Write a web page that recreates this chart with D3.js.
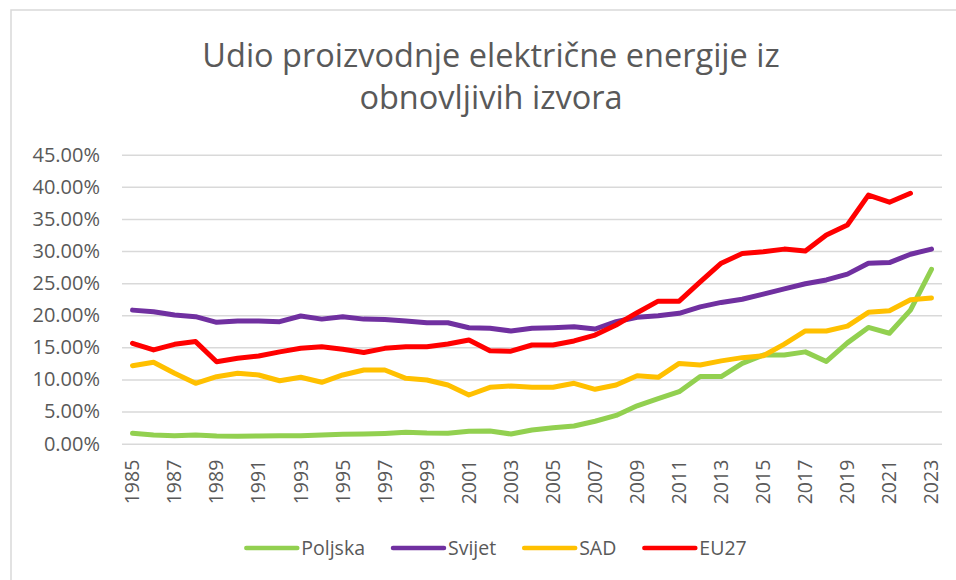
<!DOCTYPE html>
<html>
<head>
<meta charset="utf-8">
<script src="https://cdn.jsdelivr.net/npm/d3@7"></script>
<style>
  body { margin: 0; background: #fff; }
  svg { display: block; font-family: "Open Sans", sans-serif; }
</style>
</head>
<body>
<svg id="chart" width="956" height="580"></svg>
<script>
// ######## chart data (percent shares)
var years = [1985, 1986, 1987, 1988, 1989, 1990, 1991, 1992, 1993, 1994,
             1995, 1996, 1997, 1998, 1999, 2000, 2001, 2002, 2003, 2004,
             2005, 2006, 2007, 2008, 2009, 2010, 2011, 2012, 2013, 2014,
             2015, 2016, 2017, 2018, 2019, 2020, 2021, 2022, 2023];

var poljska = [1.62, 1.35, 1.25, 1.35, 1.2, 1.15, 1.2, 1.25, 1.25, 1.35,
               1.46, 1.5, 1.6, 1.77, 1.65, 1.62, 1.95, 1.98, 1.51, 2.13,
               2.5, 2.76, 3.5, 4.4, 5.9, 7.0, 8.1, 10.45, 10.45, 12.5,
               13.8, 13.8, 14.3, 12.8, 15.7, 18.1, 17.2, 20.8, 27.15];

var svijet = [20.8, 20.55, 20.04, 19.78, 18.9, 19.1, 19.1, 19.0, 19.88, 19.4,
              19.78, 19.4, 19.35, 19.1, 18.84, 18.84, 18.06, 17.97, 17.55, 17.97,
              18.06, 18.2, 17.86, 19.0, 19.68, 19.93, 20.3, 21.3, 22.0, 22.5,
              23.3, 24.1, 24.9, 25.5, 26.4, 28.1, 28.2, 29.5, 30.3];

var sad = [12.15, 12.67, 10.96, 9.4, 10.43, 10.96, 10.7, 9.8, 10.34, 9.56,
           10.7, 11.47, 11.47, 10.18, 9.92, 9.14, 7.58, 8.78, 8.98, 8.78,
           8.78, 9.4, 8.47, 9.14, 10.59, 10.34, 12.5, 12.25, 12.9, 13.4,
           13.7, 15.5, 17.55, 17.55, 18.3, 20.45, 20.7, 22.4, 22.7];

var eu27 = [15.63, 14.6, 15.47, 15.9, 12.77, 13.3, 13.65, 14.3, 14.85, 15.1,
            14.7, 14.2, 14.85, 15.1, 15.1, 15.52, 16.15, 14.48, 14.4, 15.37,
            15.37, 16.0, 16.92, 18.48, 20.4, 22.2, 22.2, 25.2, 28.1, 29.6,
            29.9, 30.3, 30.0, 32.5, 34.05, 38.7, 37.6, 39.0, null];

var yTicks = [0, 5, 10, 15, 20, 25, 30, 35, 40, 45];
var titleLines = ["Udio proizvodnje električne energije iz", "obnovljivih izvora"];

var series = [
  { name: "Poljska", values: poljska, color: "#92d050" },
  { name: "Svijet",  values: svijet,  color: "#7030a0" },
  { name: "SAD",     values: sad,     color: "#ffc000" },
  { name: "EU27",    values: eu27,    color: "#ff0000" }
];

// ######## layout
var svg = d3.select("#chart");
var plot = { left: 122, right: 942, top: 154.7, bottom: 443.7 };
var textColor = "#595959";
var gridColor = "#d9d9d9";

// chart border (only the left and top edges are in the picture)
svg.append("path")
  .attr("d", "M11,600 L11,10 L960,10")
  .attr("fill", "none")
  .attr("stroke", gridColor)
  .attr("stroke-width", 1.5);

// title
svg.append("g").selectAll("text")
  .data(titleLines)
  .join("text")
  .attr("x", 491)
  .attr("y", (d, i) => 67 + i * 42)
  .attr("text-anchor", "middle")
  .attr("font-size", 32.5)
  .attr("fill", textColor)
  .text(d => d);

// ######## scales
var x = d3.scaleBand()
  .domain(years)
  .range([plot.left, plot.right]);

var y = d3.scaleLinear()
  .domain([0, 45])
  .range([plot.bottom, plot.top]);

// gridlines + y labels
var yAxis = svg.append("g")
  .attr("transform", "translate(" + plot.left + ",0)")
  .call(d3.axisLeft(y)
    .tickValues(yTicks)
    .tickSize(-(plot.right - plot.left))
    .tickPadding(22)
    .tickFormat(d => d3.format(".2f")(d) + "%"));

yAxis.select(".domain").remove();
yAxis.selectAll(".tick line")
  .attr("stroke", gridColor)
  .attr("stroke-width", 1.5);
yAxis.selectAll(".tick text")
  .attr("fill", textColor)
  .attr("font-size", 20)
  .attr("font-family", "Open Sans, sans-serif");

// x labels, every other year, rotated
var xAxis = svg.append("g")
  .attr("transform", "translate(0," + plot.bottom + ")")
  .call(d3.axisBottom(x)
    .tickValues(years.filter((d, i) => i % 2 === 0))
    .tickSize(0));

xAxis.select(".domain").remove();
xAxis.selectAll(".tick text")
  .attr("fill", textColor)
  .attr("font-size", 19.5)
  .attr("font-family", "Open Sans, sans-serif")
  .attr("text-anchor", "end")
  .attr("transform", "rotate(-90)")
  .attr("x", -16)
  .attr("y", 0)
  .attr("dy", "0.35em");

// ######## lines
var line = d3.line()
  .defined(d => d.v !== null)
  .x(d => x(d.year) + x.bandwidth() / 2)
  .y(d => y(d.v));

svg.append("g").selectAll("path")
  .data(series)
  .join("path")
  .attr("fill", "none")
  .attr("stroke", d => d.color)
  .attr("stroke-width", 5)
  .attr("stroke-linejoin", "round")
  .attr("stroke-linecap", "round")
  .attr("d", d => line(d.values.map((v, i) => ({ year: years[i], v: v }))));

// ######## legend, centred under the plot
var legend = svg.append("g");
var legendY = 548;
var swatch = 55;
var cursor = 0;

series.forEach(function(s, i) {
  var item = legend.append("g").attr("transform", "translate(" + cursor + ",0)");
  item.append("line")
    .attr("x1", 2).attr("x2", swatch - 2)
    .attr("y1", legendY).attr("y2", legendY)
    .attr("stroke", s.color)
    .attr("stroke-width", 4.5)
    .attr("stroke-linecap", "round");
  var t = item.append("text")
    .attr("x", swatch + 2)
    .attr("y", legendY)
    .attr("dy", "0.35em")
    .attr("font-size", 19.5)
    .attr("fill", textColor)
    .text(s.name);
  cursor += swatch + 2 + t.node().getComputedTextLength() + 26;
});

var legendWidth = cursor - 26;
legend.attr("transform", "translate(" + (495.5 - legendWidth / 2) + ",0)");
</script>
</body>
</html>
